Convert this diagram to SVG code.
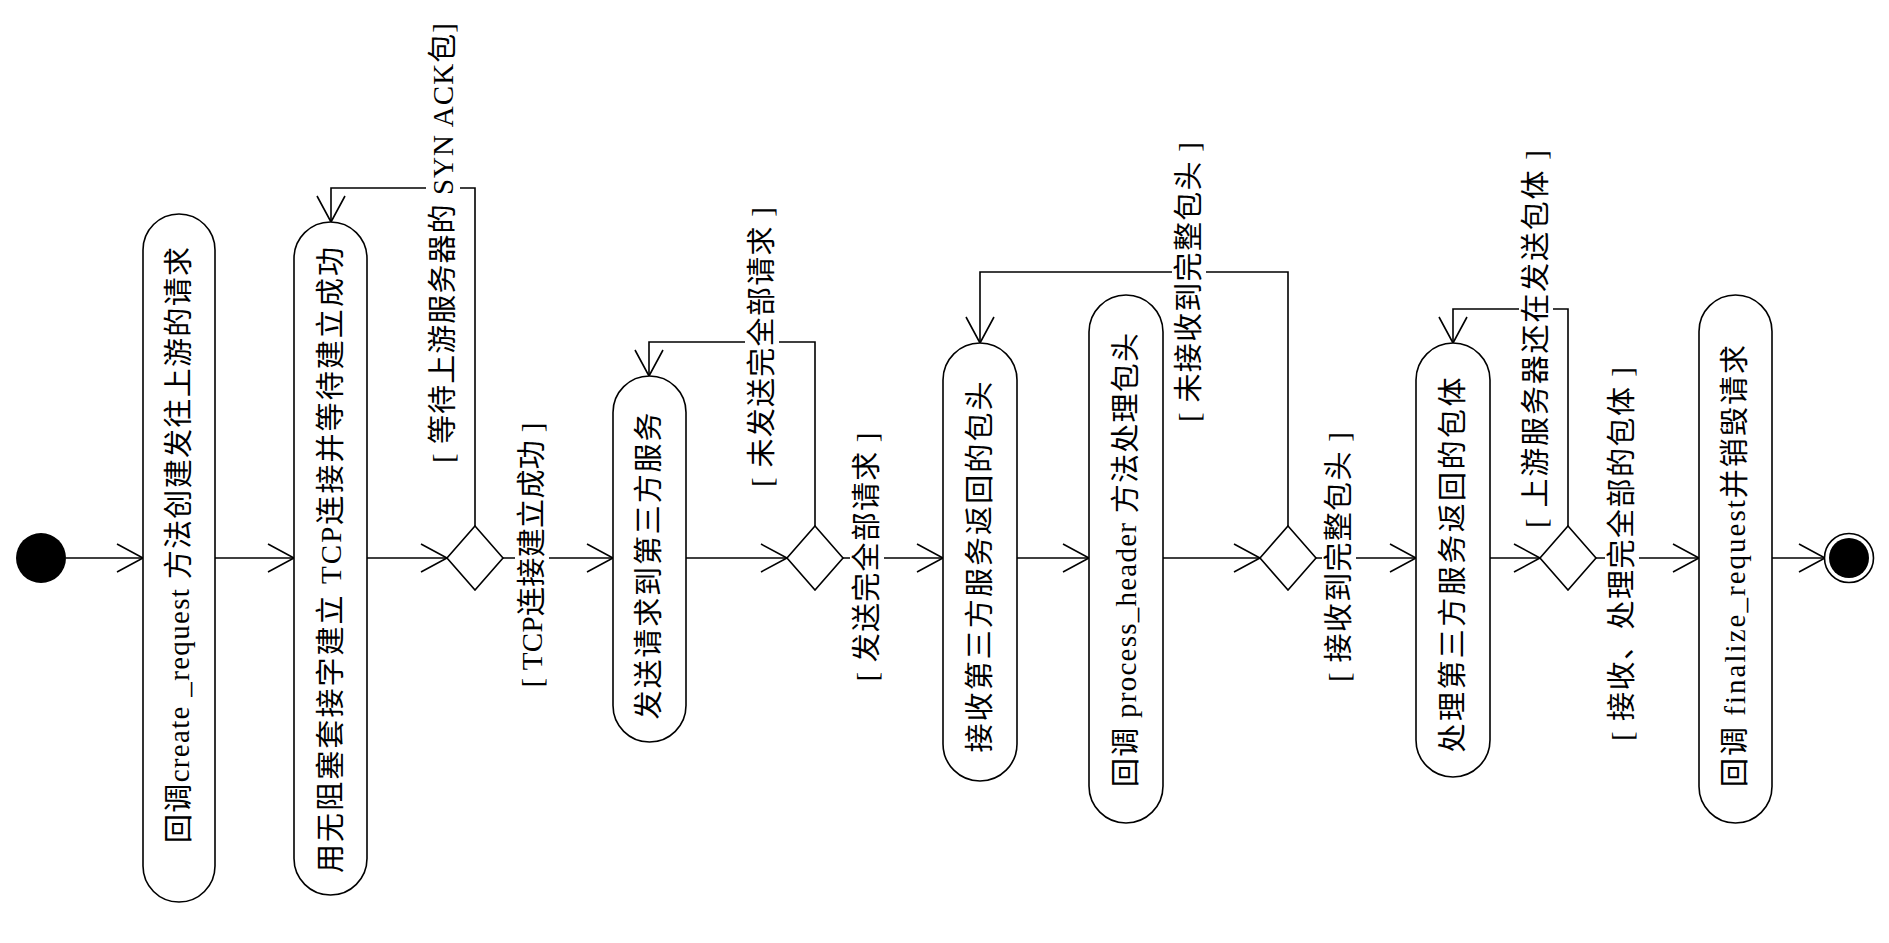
<svg xmlns="http://www.w3.org/2000/svg" width="1889" height="943" viewBox="0 0 1889 943">
<defs>
<marker id="arr" markerWidth="30" markerHeight="32" refX="27" refY="15" orient="auto" markerUnits="userSpaceOnUse">
<path d="M1,1 L27,15 L1,29" fill="none" stroke="#000" stroke-width="1.6"/>
</marker>
<style>
.n{fill:#fff;stroke:#000;stroke-width:1.6}
.c{fill:none;stroke:#000;stroke-width:1.6}
.bg{fill:#fff;stroke:none}
.t{font-family:"Liberation Serif","Noto Sans CJK SC",serif;font-size:29px;fill:#000;text-anchor:middle;dominant-baseline:central}
</style>
</defs>
<rect width="1889" height="943" fill="#fff"/>
<g id="connectors">
<path class="c" marker-end="url(#arr)" d="M66,558 H143"/>
<path class="c" marker-end="url(#arr)" d="M215,558 H294"/>
<path class="c" marker-end="url(#arr)" d="M367,558 H447"/>
<path class="c" marker-end="url(#arr)" d="M503,558 H613"/>
<path class="c" marker-end="url(#arr)" d="M686,558 H787"/>
<path class="c" marker-end="url(#arr)" d="M843,558 H943"/>
<path class="c" marker-end="url(#arr)" d="M1017,558 H1089"/>
<path class="c" marker-end="url(#arr)" d="M1163,558 H1260"/>
<path class="c" marker-end="url(#arr)" d="M1316,558 H1416"/>
<path class="c" marker-end="url(#arr)" d="M1490,558 H1540"/>
<path class="c" marker-end="url(#arr)" d="M1596,558 H1699"/>
<path class="c" marker-end="url(#arr)" d="M1772,558 H1825"/>
<path class="c" marker-end="url(#arr)" d="M475,526 V188 H331 V222"/>
<path class="c" marker-end="url(#arr)" d="M815,526 V342 H649 V376"/>
<path class="c" marker-end="url(#arr)" d="M1288,526 V272 H980 V343"/>
<path class="c" marker-end="url(#arr)" d="M1568,526 V309 H1453 V343"/>
<g id="guard-syn"><rect class="bg" x="426" y="21" width="34" height="444"/>
<text class="t" transform="translate(443,243) rotate(-90)" textLength="440">[ 等待上游服务器的 SYN ACK包]</text></g>
<g id="guard-tcp"><rect class="bg" x="515" y="421" width="34" height="269"/>
<text class="t" transform="translate(532,555) rotate(-90)" textLength="265">[ TCP连接建立成功 ]</text></g>
<g id="guard-notsent"><rect class="bg" x="745" y="205" width="34" height="284"/>
<text class="t" transform="translate(762,347) rotate(-90)" textLength="280">[ 未发送完全部请求 ]</text></g>
<g id="guard-sent"><rect class="bg" x="850" y="431" width="34" height="253"/>
<text class="t" transform="translate(867,557) rotate(-90)" textLength="249">[ 发送完全部请求 ]</text></g>
<g id="guard-nohdr"><rect class="bg" x="1172" y="140" width="34" height="284"/>
<text class="t" transform="translate(1189,282) rotate(-90)" textLength="280">[ 未接收到完整包头 ]</text></g>
<g id="guard-hdr"><rect class="bg" x="1322" y="430" width="34" height="254"/>
<text class="t" transform="translate(1339,557) rotate(-90)" textLength="250">[ 接收到完整包头 ]</text></g>
<g id="guard-sending"><rect class="bg" x="1519" y="148" width="34" height="382"/>
<text class="t" transform="translate(1536,339) rotate(-90)" textLength="378">[ 上游服务器还在发送包体 ]</text></g>
<g id="guard-done"><rect class="bg" x="1605" y="365" width="34" height="378"/>
<text class="t" transform="translate(1622,554) rotate(-90)" textLength="374">[ 接收、处理完全部的包体 ]</text></g>
</g>
<g id="start"><circle cx="41" cy="558" r="25" fill="#000"/></g>
<g id="node1"><rect class="n" x="143" y="214" width="72" height="688" rx="36"/>
<text class="t" transform="translate(179,545) rotate(-90)" textLength="596">回调create _request 方法创建发往上游的请求</text></g>
<g id="node2"><rect class="n" x="294" y="222" width="73" height="673" rx="36.5"/>
<text class="t" transform="translate(331,560) rotate(-90)" textLength="626">用无阻塞套接字建立 TCP连接并等待建立成功</text></g>
<g id="decision1"><path class="n" d="M475,526 L503,558 L475,590 L447,558 Z"/></g>
<g id="node3"><rect class="n" x="613" y="376" width="73" height="366" rx="36.5"/>
<text class="t" transform="translate(649,566) rotate(-90)" textLength="307">发送请求到第三方服务</text></g>
<g id="decision2"><path class="n" d="M815,526 L843,558 L815,590 L787,558 Z"/></g>
<g id="node4"><rect class="n" x="943" y="343" width="74" height="438" rx="37"/>
<text class="t" transform="translate(980,567) rotate(-90)" textLength="371">接收第三方服务返回的包头</text></g>
<g id="node5"><rect class="n" x="1089" y="295" width="74" height="528" rx="37"/>
<text class="t" transform="translate(1126,560) rotate(-90)" textLength="454">回调 process_header 方法处理包头</text></g>
<g id="decision3"><path class="n" d="M1288,526 L1316,558 L1288,590 L1260,558 Z"/></g>
<g id="node6"><rect class="n" x="1416" y="343" width="74" height="434" rx="37"/>
<text class="t" transform="translate(1453,565) rotate(-90)" textLength="375">处理第三方服务返回的包体</text></g>
<g id="decision4"><path class="n" d="M1568,526 L1596,558 L1568,590 L1540,558 Z"/></g>
<g id="node7"><rect class="n" x="1699" y="295" width="73" height="528" rx="36.5"/>
<text class="t" transform="translate(1735,566) rotate(-90)" textLength="442">回调 finalize_request并销毁请求</text></g>
<g id="end"><circle cx="1849" cy="558" r="24.5" fill="#fff" stroke="#000" stroke-width="1.6"/><circle cx="1849" cy="558" r="20" fill="#000"/></g>
</svg>
